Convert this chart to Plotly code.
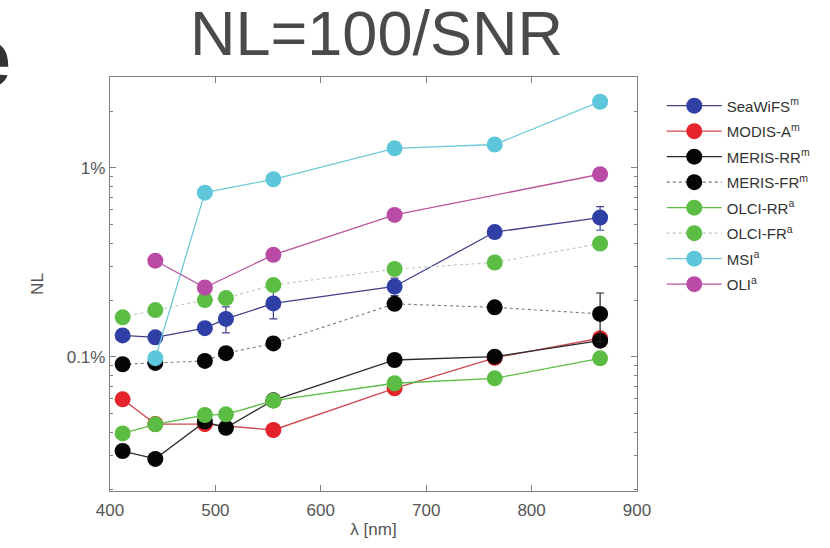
import plotly.graph_objects as go

# Noise level (NL = 100/SNR, in %) per band, by sensor
seawifs_wl = [412, 443, 490, 510, 555, 670, 765, 865]
seawifs_nl = [0.130, 0.127, 0.142, 0.159, 0.192, 0.236, 0.458, 0.546]
seawifs_err = [0, 0, 0, 0.025, 0.033, 0.025, 0, 0.078]

modis_wl = [412, 443, 490, 555, 670, 765, 865]
modis_nl = [0.0597, 0.0442, 0.0441, 0.0411, 0.0683, 0.099, 0.1256]

meris_rr_wl = [412, 443, 490, 510, 555, 670, 765, 865]
meris_rr_nl = [0.0318, 0.0289, 0.0455, 0.0422, 0.059, 0.0964, 0.1004, 0.122]

meris_fr_wl = [412, 443, 490, 510, 555, 670, 765, 865]
meris_fr_nl = [0.0915, 0.093, 0.0953, 0.1047, 0.118, 0.191, 0.183, 0.169]
meris_fr_err = [0, 0, 0, 0, 0.008, 0, 0, 0.049]

olci_rr_wl = [412, 443, 490, 510, 555, 670, 765, 865]
olci_rr_nl = [0.0394, 0.044, 0.0493, 0.0497, 0.0587, 0.0726, 0.0771, 0.0984]

olci_fr_wl = [412, 443, 490, 510, 555, 670, 765, 865]
olci_fr_nl = [0.162, 0.177, 0.200, 0.205, 0.240, 0.292, 0.316, 0.398]

msi_wl = [443, 490, 555, 670, 765, 865]
msi_nl = [0.0985, 0.74, 0.871, 1.27, 1.33, 2.24]

oli_wl = [443, 490, 555, 670, 865]
oli_nl = [0.323, 0.233, 0.347, 0.564, 0.926]

y_tick_vals = [0.1, 1]
y_tick_text = ["0.1%", "1%"]
y_minor_vals = [0.02, 0.03, 0.04, 0.05, 0.06, 0.07, 0.08, 0.09,
                0.2, 0.3, 0.4, 0.5, 0.6, 0.7, 0.8, 0.9, 2, 3]
x_tick_vals = [400, 500, 600, 700, 800, 900]

series = [
    ("SeaWiFS<sup>m</sup>", seawifs_wl, seawifs_nl, seawifs_err, "#2f3fa6", "#40428a", "solid", 1.3),
    ("MODIS-A<sup>m</sup>", modis_wl, modis_nl, None, "#e4232b", "#cf4a4e", "solid", 1.3),
    ("MERIS-RR<sup>m</sup>", meris_rr_wl, meris_rr_nl, None, "#050505", "#2a2a2a", "solid", 1.3),
    ("MERIS-FR<sup>m</sup>", meris_fr_wl, meris_fr_nl, meris_fr_err, "#050505", "#7a7a7a", "dot", 1.1),
    ("OLCI-RR<sup>a</sup>", olci_rr_wl, olci_rr_nl, None, "#5cbd45", "#5cbd45", "solid", 1.3),
    ("OLCI-FR<sup>a</sup>", olci_fr_wl, olci_fr_nl, None, "#5cbd45", "#bcc8b5", "dot", 1.1),
    ("MSI<sup>a</sup>", msi_wl, msi_nl, None, "#5ec6da", "#6fcad8", "solid", 1.3),
    ("OLI<sup>a</sup>", oli_wl, oli_nl, None, "#b94aa6", "#b8559f", "solid", 1.3),
]

fig = go.Figure()
for i, (name, wl, nl, err, mcol, lcol, dash, lw) in enumerate(series):
    tr = dict(
        x=wl, y=nl, name=name, mode="lines+markers",
        legendgroup=f"g{i}",
        line=dict(color=lcol, width=lw, dash=dash),
        marker=dict(color=mcol, size=16, line=dict(width=0)),
    )
    if err is not None:
        err_col = "#222222" if mcol == "#050505" else lcol
        tr["error_y"] = dict(type="data", array=err, visible=True,
                             color=err_col, thickness=1.2, width=4)
    fig.add_trace(go.Scatter(**tr))

axis_common = dict(
    showline=True, linecolor="#808080", linewidth=1.3, mirror="ticks",
    ticks="inside", tickcolor="#808080", tickwidth=1, showgrid=False,
    zeroline=False, tickfont=dict(size=17, color="#555555"),
)

fig.update_xaxes(
    range=[400, 900], tickmode="array", tickvals=x_tick_vals, ticklen=6,
    ticklabelstandoff=3,
    title=dict(text="λ [nm]", font=dict(size=17, color="#555555"), standoff=4),
    **axis_common,
)
fig.update_yaxes(
    type="log", range=[-1.709, 0.481], tickmode="array",
    tickvals=y_tick_vals, ticktext=y_tick_text, ticklen=6,
    minor=dict(ticks="inside", ticklen=3, tickcolor="#808080", tickvals=y_minor_vals),
    title=dict(text="NL", font=dict(size=17, color="#555555"), standoff=18),
    **axis_common,
)

fig.add_annotation(
    text="NL=100/SNR", xref="paper", yref="paper", x=0.506, y=1.106,
    xanchor="center", yanchor="middle", showarrow=False,
    font=dict(size=63, color="#4a4a4a", family="Liberation Sans, Arial, sans-serif"),
)
fig.add_annotation(
    text="<b>e</b>", xref="paper", yref="paper", x=-0.184, y=1.045,
    xanchor="right", yanchor="middle", showarrow=False,
    font=dict(size=81, color="#333333", family="Liberation Sans, Arial, sans-serif"),
)

fig.update_layout(
    width=830, height=548,
    margin=dict(l=110, r=193, t=77, b=57),
    paper_bgcolor="white", plot_bgcolor="white",
    font=dict(family="Liberation Sans, Arial, sans-serif", color="#444444"),
    showlegend=True,
    legend=dict(
        x=1.047, y=0.97, xanchor="left", yanchor="top",
        font=dict(size=15, color="#333333"),
        tracegroupgap=3, itemwidth=55, bgcolor="rgba(0,0,0,0)",
    ),
)

fig.write_html("out.html")
